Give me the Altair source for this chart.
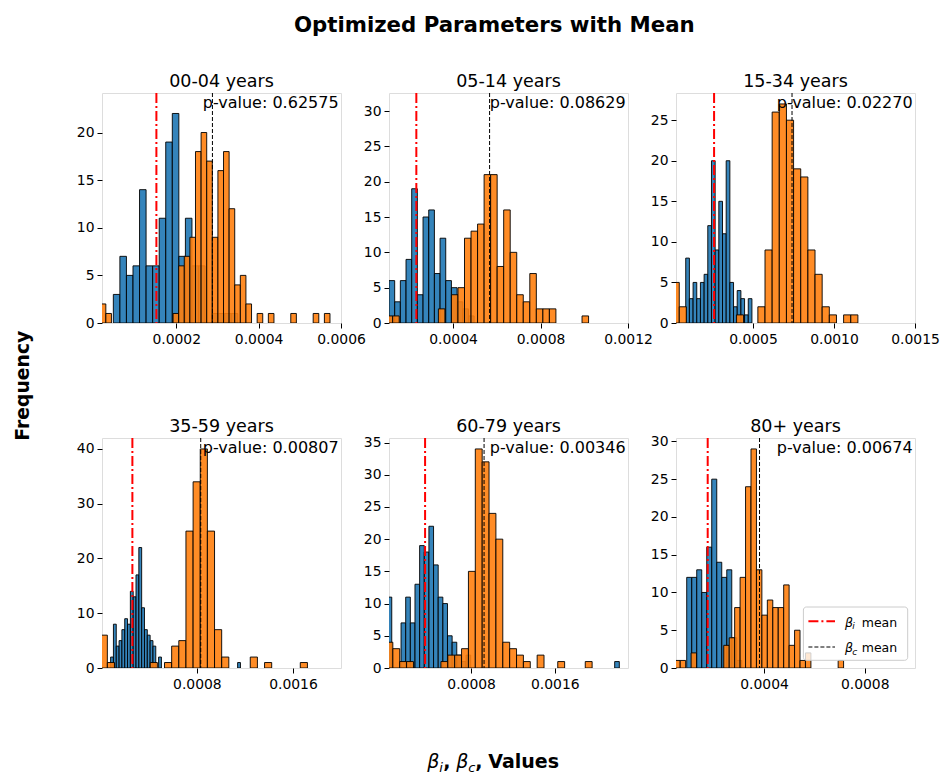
import altair as alt
import pandas as pd

W, H = 239, 230

age_groups = ["00-04 years", "05-14 years", "15-34 years", "35-59 years", "60-79 years", "80+ years"]
p_values = ["0.62575", "0.08629", "0.02270", "0.00807", "0.00346", "0.00674"]

# beta_i (blue) histograms: first bin left edge, bin width, counts
bi_start = [0.0000475, 0.000107, 0.000085, 0.0000817, -0.000003, 0.0000926]
bi_width = [0.0000159, 0.00002595, 0.0000227, 0.0000235, 0.0000444, 0.0000199]
bi_counts = [
    [3, 7, 5, 6, 14, 6, 6, 11, 19, 22, 7, 11, 6, 6, 0, 1, 1, 1, 1],
    [6, 3, 6, 9, 19, 4, 15, 16, 7, 12, 6, 5, 3, 2, 1],
    [8, 3, 5, 3, 5, 6, 12, 20, 9, 15, 11, 20, 5, 2, 4, 3, 1, 3],
    [2, 8, 4, 5, 7, 9, 8, 14, 13, 17, 22, 11, 7, 6, 5, 4, 0, 2] + [0] * 27 + [1],
    [11, 0, 0, 7, 11, 7, 13, 19, 18, 22, 16, 11, 10, 5, 4, 2, 1, 2] + [0] * 31 + [1],
    [12, 12, 13, 10, 16, 25, 14, 12, 13, 4, 1],
]
# beta_c (orange) histograms
bc_start = [0.0000157, 0.000094, 0.000001, -0.000005, -0.000014, 0.000045]
bc_width = [0.0000136, 0.00002986, 0.0000441, 0.0000595, 0.0000657, 0.00002165]
bc_counts = [
    [2, 1, 0, 0, 0, 0, 0, 0, 0, 0, 0, 0, 0, 1, 6, 7, 9, 18, 20, 17, 9, 16, 18, 12, 4, 5, 2,
     0, 1, 0, 1, 0, 0, 0, 1, 0, 0, 0, 1, 0, 1],
    [1, 1, 0, 0, 0, 0, 0, 0, 2, 0, 4, 5, 12, 13, 14, 21, 21, 8, 16, 10, 4, 3, 7, 2, 2, 2,
     0, 0, 0, 0, 1],
    [5, 2, 0, 0, 0, 0, 0, 0, 0, 1, 0, 0, 2, 9, 26, 27, 25, 19, 18, 9, 6, 2, 1, 0, 1, 1],
    [6, 1, 0, 0, 0, 0, 0, 1, 0, 1, 4, 5, 25, 34, 40, 25, 7, 2, 0, 0, 0, 2, 0, 1, 0, 0, 0, 0, 1],
    [4, 3, 1, 1, 0, 0, 0, 0, 1, 2, 2, 3, 15, 34, 32, 24, 20, 4, 3, 2, 1, 0, 2, 0, 0, 1, 0, 0, 0, 1],
    [1, 1, 0, 2, 0, 0, 0, 0, 0, 3, 4, 8, 12, 24, 29, 13, 7, 9, 8, 8, 11, 3, 5, 1, 2, 0, 0, 0, 0, 0, 1],
]
bi_mean = [0.000152, 0.000232, 0.000260, 0.000263, 0.000360, 0.000176]
bc_mean = [0.000288, 0.000567, 0.000741, 0.000832, 0.000924, 0.000382]

x_domains = [[0.00002, 0.0006], [0.000107, 0.0012], [0.000025, 0.0015],
             [0.00001, 0.002], [0.000015, 0.0023], [0.00005, 0.001]]
y_max = [24.15, 32.55, 28.35, 42.0, 35.7, 30.45]
x_ticks = [[0.0002, 0.0004, 0.0006], [0.0004, 0.0008, 0.0012], [0.0005, 0.0010, 0.0015],
           [0.0008, 0.0016], [0.0008, 0.0016], [0.0004, 0.0008]]
y_ticks = [[0, 5, 10, 15, 20], [0, 5, 10, 15, 20, 25, 30], [0, 5, 10, 15, 20, 25],
           [0, 10, 20, 30, 40], [0, 5, 10, 15, 20, 25, 30, 35], [0, 5, 10, 15, 20, 25, 30]]

FONT = "DejaVu Sans"
BLUE = "#1f77b4"
ORANGE = "#ff7f0e"


def hist_df(start, width, counts):
    rows = []
    for i, c in enumerate(counts):
        if c > 0:
            rows.append({"x0": start + i * width, "x1": start + (i + 1) * width, "n": c})
    return pd.DataFrame(rows)


def txt(text, x, y, size, weight="normal", style="normal", align="left",
        baseline="alphabetic", angle=0):
    return alt.Chart(pd.DataFrame({"t": [text]})).mark_text(
        font=FONT, fontSize=size, fontWeight=weight, fontStyle=style,
        align=align, baseline=baseline, angle=angle, color="black"
    ).encode(x=alt.value(x), y=alt.value(y), text="t:N")


def panel(k):
    xs = alt.Scale(domain=x_domains[k], nice=False, zero=False)
    ys = alt.Scale(domain=[0, y_max[k]], nice=False, zero=True)
    xax = alt.Axis(values=x_ticks[k], format=".4f", title=None, grid=False, domain=False,
                   tickSize=5, tickWidth=1, tickColor="black", labelColor="black",
                   labelFont=FONT, labelFontSize=13.9, labelPadding=4,
                   labelFlush=False, labelOverlap=False)
    yax = alt.Axis(values=y_ticks[k], title=None, grid=False, domain=False,
                   tickSize=5, tickWidth=1, tickColor="black", labelColor="black",
                   labelFont=FONT, labelFontSize=13.9, labelPadding=3,
                   labelFlush=False, labelOverlap=False)
    blue = alt.Chart(hist_df(bi_start[k], bi_width[k], bi_counts[k])).mark_rect(
        fill=BLUE, fillOpacity=0.9, stroke="black", strokeOpacity=0.9, strokeWidth=1, clip=True
    ).encode(x=alt.X("x0:Q", scale=xs, axis=xax), x2="x1:Q",
             y=alt.Y("n:Q", scale=ys, axis=yax), y2=alt.datum(0))
    orange = alt.Chart(hist_df(bc_start[k], bc_width[k], bc_counts[k])).mark_rect(
        fill=ORANGE, fillOpacity=0.9, stroke="black", strokeOpacity=0.9, strokeWidth=1, clip=True
    ).encode(x=alt.X("x0:Q", scale=xs, axis=xax), x2="x1:Q",
             y=alt.Y("n:Q", scale=ys, axis=yax), y2=alt.datum(0))
    red = alt.Chart(pd.DataFrame({"x0": [bi_mean[k]]})).mark_rule(
        color="red", strokeWidth=2, strokeDash=[10, 3, 2, 3]
    ).encode(x=alt.X("x0:Q", scale=xs, axis=xax), y=alt.value(0), y2=alt.value(H))
    black = alt.Chart(pd.DataFrame({"x0": [bc_mean[k]]})).mark_rule(
        color="black", strokeWidth=1, strokeDash=[4, 2]
    ).encode(x=alt.X("x0:Q", scale=xs, axis=xax), y=alt.value(0), y2=alt.value(H))
    ptxt = txt("p-value: " + p_values[k], W - 2.4, 2.3, 16, align="right", baseline="top")
    ttl = txt(age_groups[k], W / 2, -6.3, 17.5, align="center")
    layers = [blue, orange, red, black, ptxt, ttl]

    if k == 0:
        ox, oy = 100.7, 92.3
        anchor = alt.Chart(pd.DataFrame({"a": [0]})).mark_rule(opacity=0).encode(
            x=alt.value(-ox), x2=alt.value(-ox), y=alt.value(-oy), y2=alt.value(-oy))
        layers += [
            anchor,
            txt("Optimized Parameters with Mean", 493 - ox, 31 - oy, 21.3,
                weight="bold", align="center"),
            txt("Frequency", 22 - ox, 385 - oy, 18.8, weight="bold", align="center",
                baseline="middle", angle=270),
            txt("β", 426 - ox, 767 - oy, 19, style="italic"),
            txt("i", 438 - ox, 771 - oy, 13, style="italic"),
            txt(",", 442 - ox, 767 - oy, 19, weight="bold"),
            txt("β", 455 - ox, 767 - oy, 19, style="italic"),
            txt("c", 467 - ox, 771 - oy, 13, style="italic"),
            txt(",", 474 - ox, 767 - oy, 19, weight="bold"),
            txt("Values", 487 - ox, 767 - oy, 19, weight="bold"),
        ]
    if k == 5:
        one = pd.DataFrame({"a": [0]})
        box = alt.Chart(one).mark_rect(
            fill="white", fillOpacity=0.8, stroke="#cccccc", strokeWidth=1, cornerRadius=3
        ).encode(x=alt.value(127.4), x2=alt.value(231.7), y=alt.value(169), y2=alt.value(222.3))
        lred = alt.Chart(one).mark_rule(color="red", strokeWidth=2, strokeDash=[10, 3, 2, 3]).encode(
            x=alt.value(132.4), x2=alt.value(159), y=alt.value(183.3), y2=alt.value(183.3))
        lblk = alt.Chart(one).mark_rule(color="black", strokeWidth=1, strokeDash=[4, 2]).encode(
            x=alt.value(132.4), x2=alt.value(159), y=alt.value(209), y2=alt.value(209))
        layers += [
            box, lred, lblk,
            txt("β", 169, 188.5, 12.5, style="italic"),
            txt("i", 176.3, 191, 9, style="italic"),
            txt("mean", 185.7, 188.5, 12.5),
            txt("β", 169, 214.3, 12.5, style="italic"),
            txt("c", 176.3, 216.8, 9, style="italic"),
            txt("mean", 185.7, 214.3, 12.5),
        ]
    return alt.layer(*layers).properties(width=W, height=H)


chart = alt.concat(
    *[panel(k) for k in range(6)],
    columns=3,
    spacing=alt.RowColnumber(row=115, column=48),
    bounds="flush",
).properties(padding=0).configure_view(
    stroke="black", strokeWidth=1
).configure(background="white")

chart.save("out.html", embed_options={"renderer": "svg", "actions": False})
